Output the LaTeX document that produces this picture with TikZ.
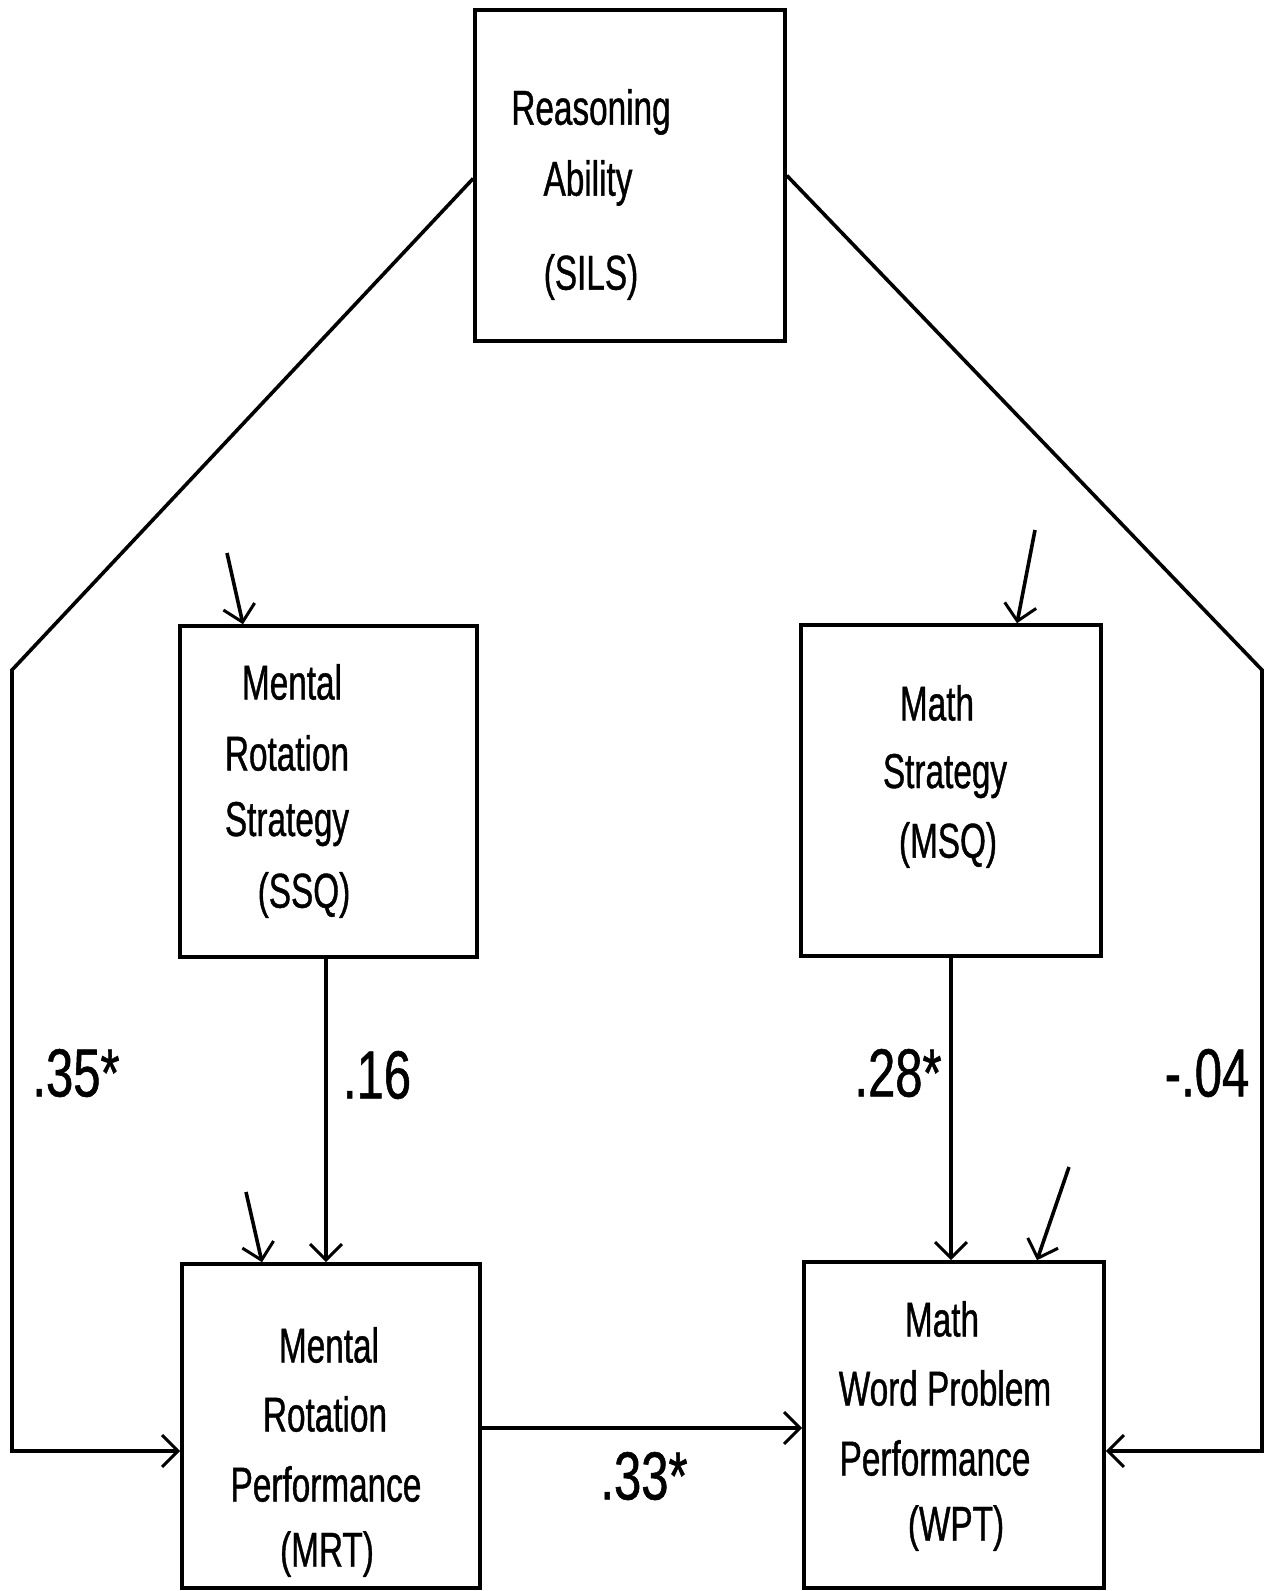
\documentclass[tikz,border=0pt]{standalone}
\usepackage{fontspec}
\setmainfont{Liberation Sans}
\newfontfamily\boxfont{Liberation Sans}[FakeStretch=0.68,FakeBold=0.8]
\newfontfamily\coeffont{Liberation Sans}[FakeStretch=0.72,FakeBold=0.8]
\usetikzlibrary{arrows.meta,calc}
\begin{document}
\begin{tikzpicture}[x=0.5pt,y=-0.5pt,
  box/.style={draw,line width=1.8pt,rectangle,inner sep=0pt},
  txt/.style={font=\boxfont\fontsize{24.5pt}{28pt}\selectfont,inner sep=0pt},
  coef/.style={font=\coeffont\fontsize{34pt}{38pt}\selectfont,inner sep=0pt},
  conn/.style={line width=1.8pt,-{Straight Barb[length=8pt,width=16pt,line width=1.5pt]}},
  line join=miter]
\useasboundingbox (0,0) rectangle (1270,1591);
\fill[white] (0,0) rectangle (1270,1591);
% boxes
\node[box,minimum width=155pt,minimum height=165.5pt] (sils) at (630,175.5) {};
\node[box,minimum width=148.5pt,minimum height=165.5pt] (ssq) at (328.5,791.5) {};
\node[box,minimum width=150pt,minimum height=165.5pt] (msq) at (951,790.5) {};
\node[box,minimum width=149pt,minimum height=162pt] (mrt) at (331,1426) {};
\node[box,minimum width=150pt,minimum height=163pt] (wpt) at (954,1425) {};
% texts
\node[txt] (t1) at (591,112) {Reasoning};
\node[txt] (t2) at (588,183) {Ability};
\node[txt] (t3) at (591,277) {(SILS)};
\node[txt] (t4) at (292,682) {Mental};
\node[txt] (t5) at (287,753) {Rotation};
\node[txt] (t6) at (287,824) {Strategy};
\node[txt] (t7) at (304,895) {(SSQ)};
\node[txt] (t8) at (937,703) {Math};
\node[txt] (t9) at (945,776) {Strategy};
\node[txt] (t10) at (948,845) {(MSQ)};
\node[txt] (t11) at (329,1345) {Mental};
\node[txt] (t12) at (325,1414) {Rotation};
\node[txt] (t13) at (326,1484) {Performance};
\node[txt] (t14) at (327,1554) {(MRT)};
\node[txt] (t15) at (942,1319) {Math};
\node[txt] (t16) at (945,1388) {Word Problem};
\node[txt] (t17) at (935,1458) {Performance};
\node[txt] (t18) at (956,1528) {(WPT)};
% coefficients
\node[coef] (c1) at (76,1073) {.35*};
\node[coef] (c2) at (377,1075) {.16};
\node[coef] (c3) at (898,1073) {.28*};
\node[coef] (c4) at (1207,1073) {-.04};
\node[coef] (c5) at (644,1476) {.33*};
% bend coordinates
\coordinate (la) at (12,670);
\coordinate (lb) at (12,1451);
\coordinate (ra) at (1262,670);
\coordinate (rb) at (1262,1451);
\coordinate (e1) at (227,553);
\coordinate (e2) at (246,1192);
\coordinate (e3) at (1035,530);
\coordinate (e4) at (1069,1167);
% connectors
\draw[conn] ($(sils.west)+(0,3)$) -- (la) -- (lb) -- (mrt.west |- lb);
\draw[conn] ($(sils.east)+(0,0)$) -- (ra) -- (rb) -- (wpt.east |- rb);
\draw[conn] (ssq.south -| 326,0) -- (mrt.north -| 326,0);
\draw[conn] (msq.south -| 951,0) -- (wpt.north -| 951,0);
\draw[conn] (mrt.east |- 0,1428) -- (wpt.west |- 0,1428);
\draw[conn] (e1) -- (ssq.north -| 243,0);
\draw[conn] (e2) -- (mrt.north -| 262,0);
\draw[conn] (e3) -- (msq.north -| 1017,0);
\draw[conn] (e4) -- (wpt.north -| 1037,0);
\end{tikzpicture}
\end{document}
